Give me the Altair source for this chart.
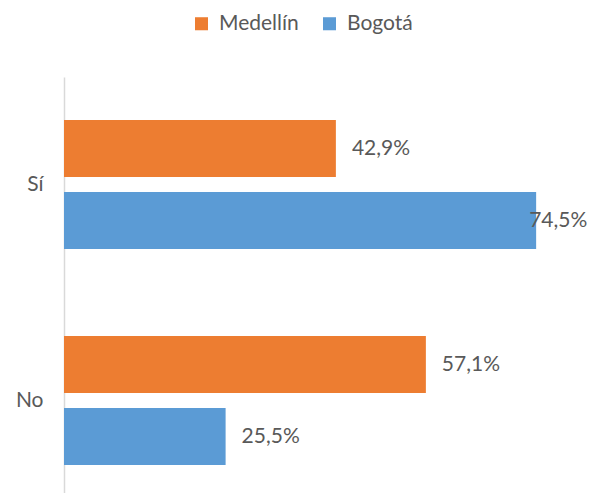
import altair as alt
import pandas as pd

categories = ["Sí", "Sí", "No", "No"]
cities = ["Medellín", "Bogotá", "Medellín", "Bogotá"]
values = [42.9, 74.5, 57.1, 25.5]

city_order = ["Medellín", "Bogotá"]
cat_order = ["Sí", "No"]
colors = ["#ED7D31", "#5B9BD5"]

df = pd.DataFrame({"cat": categories, "city": cities, "value": values})
df["label"] = [f"{v:.1f}%".replace(".", ",") for v in values]

FONT = "Lato"
TXT = "#595959"

y_enc = alt.Y("cat:N", sort=cat_order,
              scale=alt.Scale(domain=cat_order, paddingInner=0.403, paddingOuter=0.1645, align=0.606),
              axis=alt.Axis(title=None, ticks=False, domainColor="#D9D9D9", domainWidth=1.5,
                            labelFontSize=21, labelColor=TXT, labelFont=FONT, labelPadding=21))
yoff = alt.YOffset("city:N", sort=city_order,
                   scale=alt.Scale(domain=city_order, paddingInner=0.208, paddingOuter=0))
x_enc = alt.X("value:Q", scale=alt.Scale(domain=[0, 80], nice=False), axis=None)

bars = alt.Chart(df).mark_bar().encode(
    x=x_enc, y=y_enc, yOffset=yoff,
    color=alt.Color("city:N", sort=city_order,
                    scale=alt.Scale(domain=city_order, range=colors),
                    legend=alt.Legend(title=None, orient="none", direction="horizontal",
                                      legendX=127, legendY=-64, symbolType="square",
                                      symbolSize=170, symbolStrokeWidth=0, labelFontSize=21,
                                      labelColor=TXT, labelFont=FONT, columnPadding=20,
                                      labelOffset=7)),
)

labels = alt.Chart(df).mark_text(align="left", baseline="middle", dx=16, fontSize=21,
                                 font=FONT, color=TXT).encode(
    x=x_enc, y=y_enc, yOffset=yoff, text="label:N"
).transform_filter(alt.datum.value < 70)

labels_edge = alt.Chart(df).mark_text(align="left", baseline="middle", dx=-7, fontSize=21,
                                      font=FONT, color=TXT).encode(
    x=x_enc, y=y_enc, yOffset=yoff, text="label:N"
).transform_filter(alt.datum.value >= 70)

chart = alt.layer(bars, labels, labels_edge).properties(
    width=507, height=416,
    autosize=alt.AutoSizeParams(type="none"),
    padding={"left": 56, "top": 69, "right": 16, "bottom": 0},
).configure_view(stroke=None)

chart.save("out.html", embed_options={"renderer": "svg", "actions": False})
